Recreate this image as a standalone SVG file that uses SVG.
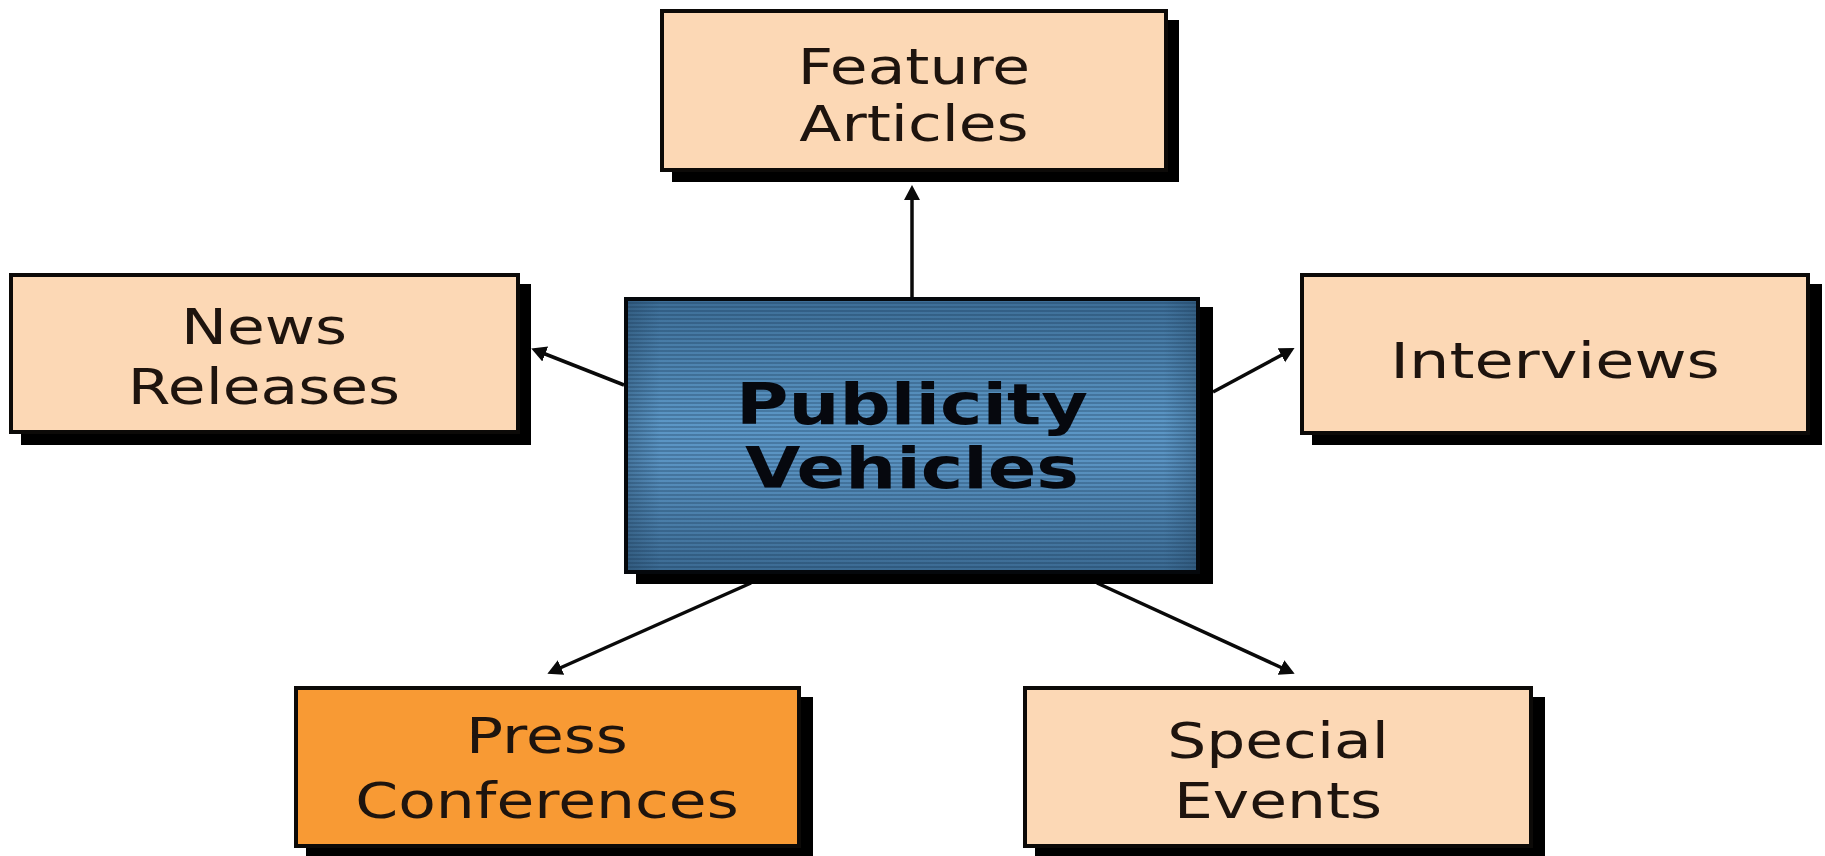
<svg xmlns="http://www.w3.org/2000/svg" width="1825" height="856" viewBox="0 0 1825 856">
  <defs>
    <style>
      .shadow { fill: #000; }
      .box { fill: #FCD8B5; stroke: #0c0a08; stroke-width: 4; }
      .box.hot { fill: #F89A34; }
      .hub { stroke: #05080c; stroke-width: 4; }
      .label { font-family: "DejaVu Sans", Verdana, "Liberation Sans", sans-serif; font-size: 50px; fill: #1E140E; text-anchor: middle; }
      .title { font-family: "DejaVu Sans", Verdana, "Liberation Sans", sans-serif; font-size: 56px; font-weight: bold; fill: #06080E; text-anchor: middle; }
      .link { stroke: #0a0a0a; stroke-width: 3.5; fill: none; marker-end: url(#head); }
    </style>
    <marker id="head" markerUnits="userSpaceOnUse" markerWidth="18" markerHeight="18" refX="11" refY="8" orient="auto">
      <path d="M0,0 L15,8 L0,16 Z" fill="#0a0a0a"/>
    </marker>
    <linearGradient id="hubShade" x1="0" y1="0" x2="0" y2="1">
      <stop offset="0" stop-color="#3D6E97"/>
      <stop offset="0.45" stop-color="#5C97C6"/>
      <stop offset="0.6" stop-color="#5A93C2"/>
      <stop offset="1" stop-color="#3B6A92"/>
    </linearGradient>
    <linearGradient id="hubSides" x1="0" y1="0" x2="1" y2="0">
      <stop offset="0" stop-color="#1d3a55" stop-opacity="0.35"/>
      <stop offset="0.06" stop-color="#1d3a55" stop-opacity="0"/>
      <stop offset="0.94" stop-color="#1d3a55" stop-opacity="0"/>
      <stop offset="1" stop-color="#1d3a55" stop-opacity="0.35"/>
    </linearGradient>
    <pattern id="stripes" patternUnits="userSpaceOnUse" x="0" y="298" width="8" height="4">
      <rect x="0" y="0" width="8" height="2" fill="#0e2a44" fill-opacity="0.26"/>
    </pattern>
  </defs>

  <rect width="1825" height="856" fill="#ffffff"/>

  <!-- connectors -->
  <g id="connectors">
    <path class="link" d="M912,297 L912,189"/>
    <path class="link" d="M624,385 L535,350"/>
    <path class="link" d="M1213,392 L1291,350"/>
    <path class="link" d="M751,583 L551,672"/>
    <path class="link" d="M1097,583 L1291,672"/>
  </g>

  <!-- central hub -->
  <g id="publicity-vehicles">
    <rect class="shadow" x="636" y="307" width="577" height="277"/>
    <rect x="626" y="299" width="572" height="273" fill="url(#hubShade)"/>
    <rect x="626" y="299" width="572" height="273" fill="url(#stripes)"/>
    <rect x="626" y="299" width="572" height="273" fill="url(#hubSides)" class="hub"/>
    <g transform="translate(912,0) scale(1.28,1)">
      <text class="title" x="0" y="424">Publicity</text>
      <text class="title" x="0" y="488">Vehicles</text>
    </g>
  </g>

  <g id="feature-articles">
    <rect class="shadow" x="672" y="20" width="507" height="162"/>
    <rect class="box" x="662" y="11" width="504" height="159"/>
    <g transform="translate(914,0) scale(1.23,1)">
      <text class="label" x="0" y="84">Feature</text>
      <text class="label" x="0" y="141">Articles</text>
    </g>
  </g>

  <g id="news-releases">
    <rect class="shadow" x="21" y="284" width="510" height="161"/>
    <rect class="box" x="11" y="275" width="507" height="157"/>
    <g transform="translate(264,0) scale(1.23,1)">
      <text class="label" x="0" y="344">News</text>
      <text class="label" x="0" y="404">Releases</text>
    </g>
  </g>

  <g id="interviews">
    <rect class="shadow" x="1312" y="284" width="510" height="161"/>
    <rect class="box" x="1302" y="275" width="506" height="158"/>
    <g transform="translate(1555,0) scale(1.23,1)">
      <text class="label" x="0" y="378" textLength="268" lengthAdjust="spacingAndGlyphs">Interviews</text>
    </g>
  </g>

  <g id="press-conferences">
    <rect class="shadow" x="306" y="697" width="507" height="162"/>
    <rect class="box hot" x="296" y="688" width="503" height="158"/>
    <g transform="translate(547,0) scale(1.23,1)">
      <text class="label" x="0" y="753">Press</text>
      <text class="label" x="0" y="818">Conferences</text>
    </g>
  </g>

  <g id="special-events">
    <rect class="shadow" x="1035" y="697" width="510" height="162"/>
    <rect class="box" x="1025" y="688" width="506" height="158"/>
    <g transform="translate(1278,0) scale(1.23,1)">
      <text class="label" x="0" y="758">Special</text>
      <text class="label" x="0" y="818">Events</text>
    </g>
  </g>
</svg>
